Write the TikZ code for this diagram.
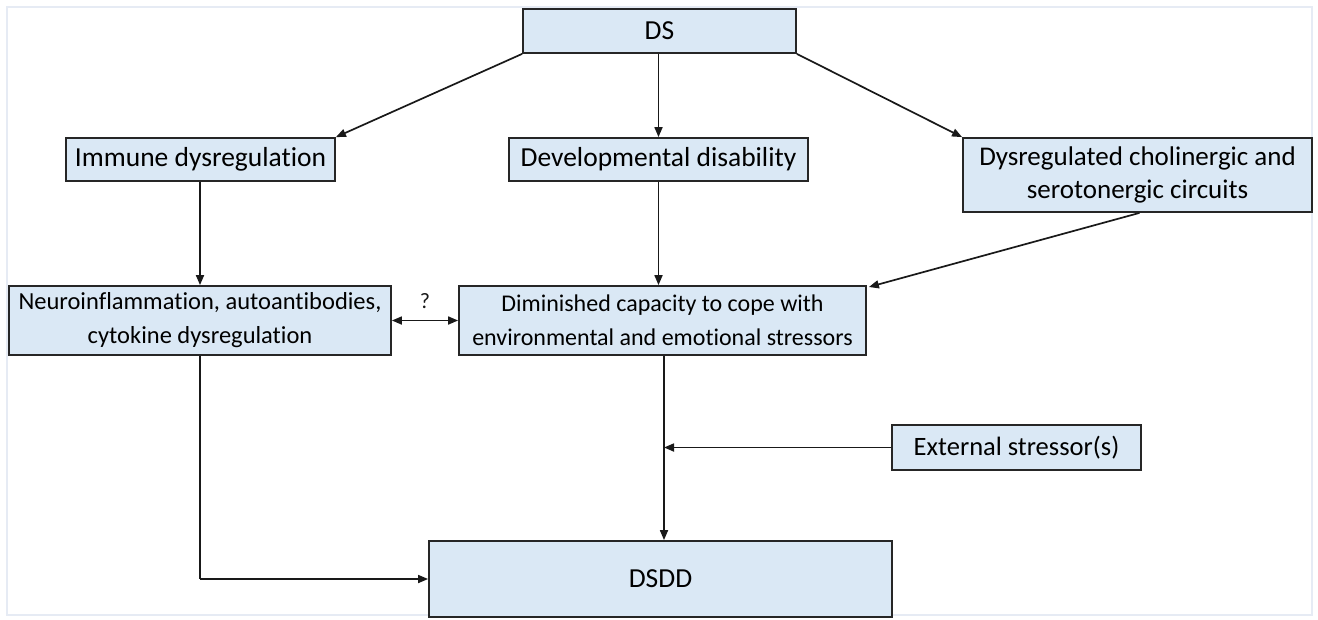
\documentclass[tikz,border=0pt]{standalone}
\usepackage{fontspec}
\setmainfont{Carlito}[Ligatures=NoCommon]
\usetikzlibrary{arrows.meta}
\definecolor{boxfill}{HTML}{DAE8F5}
\definecolor{framec}{HTML}{E6EBF4}
\begin{document}
\begin{tikzpicture}[x=1pt,y=-1pt,
  box/.style={draw=black!85,line width=1.8pt,fill=boxfill,inner sep=0pt,align=center,font=\fontsize{27.5}{33}\selectfont},
  arr/.style={-{Triangle[length=10pt,width=8pt]},line width=1.7pt,black!90}]
\useasboundingbox (0,0) rectangle (1318,619);
\draw[framec,line width=1.5pt] (7,7) rectangle (1312,615);
\node[box,minimum width=273pt,minimum height=44pt] (ds) at (659.5,31) {DS};
\node[box,minimum width=269pt,minimum height=43pt] (imm) at (200.5,159.5) {Immune dysregulation};
\node[box,minimum width=349pt,minimum height=74pt,font=\fontsize{27}{33}\selectfont] (chol) at (1137.5,175) {Dysregulated cholinergic and\\serotonergic circuits};
\node[box,minimum width=299pt,minimum height=43pt] (dev) at (658.5,159.5) {Developmental disability};
\node[box,minimum width=382pt,minimum height=69pt,font=\fontsize{24.5}{34}\selectfont] (neuro) at (200,320.5) {Neuroinflammation, autoantibodies,\\cytokine dysregulation};
\node[box,minimum width=407pt,minimum height=69pt,font=\fontsize{24}{34}\selectfont] (dim) at (662.5,320.5) {Diminished capacity to cope with\\environmental and emotional stressors};
\node[box,minimum width=249pt,minimum height=45pt,font=\fontsize{26.5}{33}\selectfont] (ext) at (1016.5,447.5) {External stressor(s)};
\node[box,minimum width=463pt,minimum height=76pt] (dsdd) at (660.5,579) {DSDD};
\coordinate (j1) at (664,447.5);
\coordinate (j2) at (200,579);
\draw[arr] (ds.south west) -- (imm.north east);
\draw[arr] (ds.south -| dev.north) -- (dev.north);
\draw[arr] (ds.south east) -- (chol.north west);
\draw[arr] (imm.south -| neuro.north) -- (neuro.north);
\draw[arr] (dev.south) -- (dev.south |- dim.north);
\draw[arr] (chol.south) ++(2,0) -- ([xshift=2pt]dim.north east |- 0,287);
\draw[{Triangle[length=10pt,width=8pt]}-{Triangle[length=10pt,width=8pt]},line width=1.7pt,black!90] (neuro.east) -- node[above=8pt,font=\fontsize{22}{26}\selectfont] (q) {?} (dim.east -| dim.west);
\draw[arr] (dim.south -| j1) -- (dsdd.north -| j1);
\draw[arr] (ext.west) -- (j1);
\draw[line width=1.7pt,black!90] (neuro.south) -- (j2);
\draw[arr] (j2) -- (dsdd.west);
\end{tikzpicture}
\end{document}
